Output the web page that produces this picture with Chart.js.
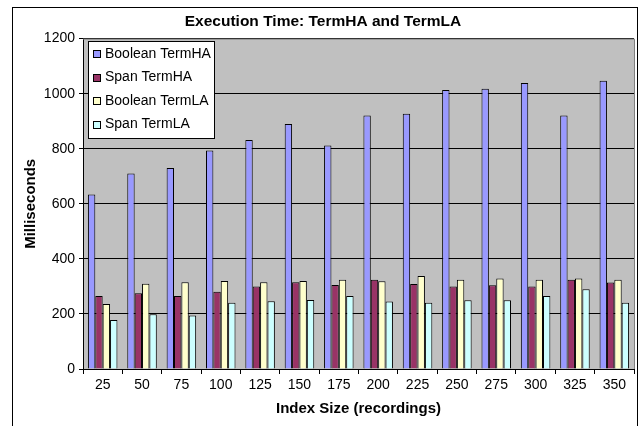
<!DOCTYPE html>
<html>
<head>
<meta charset="utf-8">
<script src="https://cdn.jsdelivr.net/npm/chart.js@4"></script>
<style>
  html, body { margin: 0; padding: 0; background: #fff; }
  #wrap { width: 643px; height: 426px; }
</style>
</head>
<body>
<div id="wrap"><canvas id="execChart" width="643" height="426"></canvas></div>
<script>
const indexSizes = ['25', '50', '75', '100', '125', '150', '175', '200', '225', '250', '275', '300', '325', '350'];
const booleanHA = [634, 710, 730, 794, 832, 890, 812, 921, 927, 1013, 1018, 1039, 921, 1047];
const spanHA = [265, 275, 265, 281, 300, 315, 305, 324, 309, 300, 304, 300, 324, 314];
const booleanLA = [236, 310, 315, 320, 315, 320, 324, 319, 338, 324, 329, 324, 329, 324];
const spanLA = [178, 199, 194, 241, 246, 251, 265, 245, 241, 250, 250, 265, 290, 241];
const yTicks = [0, 200, 400, 600, 800, 1000, 1200];

const font = "'Liberation Sans', Arial, sans-serif";

// gray plot area + frame around the whole chart
const excelLook = {
  id: 'excelLook',
  beforeDraw(chart) {
    const { ctx, chartArea: a } = chart;
    ctx.save();
    ctx.fillStyle = '#C0C0C0';
    ctx.fillRect(a.left, a.top, a.right - a.left, a.bottom - a.top);
    ctx.restore();
  },
  beforeDatasetsDraw(chart) {
    const { ctx, chartArea: a } = chart;
    ctx.save();
    ctx.strokeStyle = '#808080';
    ctx.lineWidth = 1;
    ctx.beginPath();
    ctx.moveTo(a.left, a.top + 0.5);
    ctx.lineTo(a.right + 0.5, a.top + 0.5);
    ctx.lineTo(a.right + 0.5, a.bottom);
    ctx.stroke();
    ctx.restore();
  },
  afterDraw(chart) {
    const ctx = chart.ctx;
    ctx.save();
    ctx.strokeStyle = '#000';
    ctx.lineWidth = 1;
    ctx.strokeRect(12.5, 7.5, 625, 440);
    ctx.restore();
  }
};

// legend box drawn inside the plot, top-left
const boxLegend = {
  id: 'boxLegend',
  afterDatasetsDraw(chart) {
    const ctx = chart.ctx;
    const x = 88.5, y = 41.5, w = 126, h = 97;
    ctx.save();
    ctx.fillStyle = '#fff';
    ctx.fillRect(x, y, w, h);
    ctx.strokeStyle = '#000';
    ctx.lineWidth = 1;
    ctx.strokeRect(x, y, w, h);
    ctx.font = '14px ' + font;
    ctx.textBaseline = 'middle';
    chart.data.datasets.forEach((ds, i) => {
      const cy = 54 + i * 23.5;
      ctx.fillStyle = ds.backgroundColor;
      ctx.fillRect(93.5, Math.round(cy) - 3.5, 7, 7);
      ctx.strokeRect(93.5, Math.round(cy) - 3.5, 7, 7);
      ctx.fillStyle = '#000';
      ctx.fillText(ds.label, 105, cy);
    });
    ctx.restore();
  }
};

const execData = {
  labels: indexSizes,
  datasets: [
    { label: 'Boolean TermHA', data: booleanHA, backgroundColor: '#9999FF' },
    { label: 'Span TermHA', data: spanHA, backgroundColor: '#993366' },
    { label: 'Boolean TermLA', data: booleanLA, backgroundColor: '#FFFFCC' },
    { label: 'Span TermLA', data: spanLA, backgroundColor: '#CCFFFF' }
  ].map(ds => Object.assign(ds, {
    borderColor: '#000',
    borderWidth: 1,
    borderSkipped: 'bottom',
    barPercentage: 1.0,
    categoryPercentage: 0.75
  }))
};

const execConfig = {
  type: 'bar',
  data: execData,
  plugins: [excelLook, boxLegend],
  options: {
    responsive: false,
    animation: false,
    layout: { padding: { left: 12, top: 8, right: 9, bottom: 0 } },
    plugins: {
      legend: { display: false },
      tooltip: { enabled: false },
      title: {
        display: true,
        text: 'Execution Time: TermHA and TermLA',
        color: '#000',
        font: { family: font, size: 15.5, weight: 'bold' },
        padding: { top: 4, bottom: 8 }
      }
    },
    scales: {
      x: {
        afterFit(scale) { scale.height = 57; },
        grid: {
          offset: true,
          drawOnChartArea: false,
          color: '#000',
          tickLength: 5
        },
        border: { color: '#000' },
        ticks: { color: '#000', font: { family: font, size: 14 }, padding: 3, maxRotation: 0 },
        title: {
          display: true,
          text: 'Index Size (recordings)',
          color: '#000',
          font: { family: font, size: 15, weight: 'bold' },
          padding: 8
        }
      },
      y: {
        min: 0,
        max: 1200,
        afterFit(scale) { scale.width = 71; },
        afterBuildTicks(scale) { scale.ticks = yTicks.map(v => ({ value: v })); },
        grid: { color: '#000', tickLength: 4 },
        border: { color: '#000' },
        ticks: {
          color: '#000',
          font: { family: font, size: 14 },
          padding: 4,
          callback: v => String(v)
        },
        title: {
          display: true,
          text: 'Milliseconds',
          color: '#000',
          font: { family: font, size: 15, weight: 'bold' },
          padding: 10
        }
      }
    }
  }
};

const execChart = new Chart(document.getElementById('execChart').getContext('2d'), execConfig);
</script>
</body>
</html>
